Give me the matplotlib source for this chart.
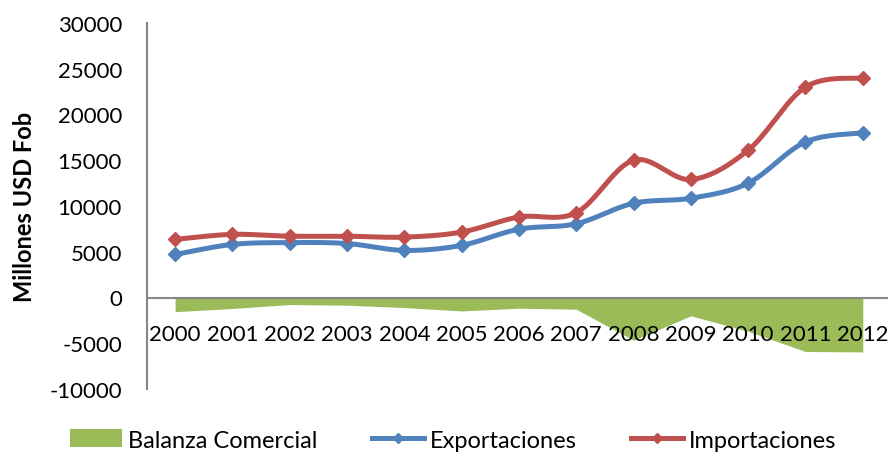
import numpy as np
import matplotlib
matplotlib.use("Agg")
import matplotlib.pyplot as plt
from matplotlib.patches import Patch
from matplotlib.lines import Line2D

plt.rcParams['font.family'] = ['Lato', 'DejaVu Sans']
plt.rcParams['axes.unicode_minus'] = False

years = ['2000', '2001', '2002', '2003', '2004', '2005', '2006',
         '2007', '2008', '2009', '2010', '2011', '2012']
exportaciones = [4700, 5800, 6000, 5900, 5150, 5700, 7470,
                 8060, 10300, 10850, 12500, 17000, 18000]
importaciones = [6350, 6900, 6700, 6700, 6600, 7150, 8800,
                 9270, 15000, 12900, 16100, 23000, 24000]
balanza = [-1550, -1200, -770, -840, -1100, -1470, -1170,
           -1280, -4670, -2000, -3700, -5900, -5950]

GREEN = '#9BBB59'
BLUE = '#4F81BD'
RED = '#C0504D'
GRAY = '#868686'


def smooth(xs, ys, n=30):
    # Catmull-Rom style bezier, similar to Excel's smoothed line
    xs = np.asarray(xs, float)
    ys = np.asarray(ys, float)
    px = np.concatenate([[xs[0]], xs, [xs[-1]]])
    py = np.concatenate([[ys[0]], ys, [ys[-1]]])
    outx, outy = [], []
    t = np.linspace(0, 1, n)
    for i in range(1, len(px) - 2):
        p0 = np.array([px[i], py[i]])
        p3 = np.array([px[i + 1], py[i + 1]])
        c1 = p0 + (np.array([px[i + 1], py[i + 1]]) - np.array([px[i - 1], py[i - 1]])) / 6
        c2 = p3 - (np.array([px[i + 2], py[i + 2]]) - np.array([px[i], py[i]])) / 6
        b = ((1 - t) ** 3)[:, None] * p0 + (3 * (1 - t) ** 2 * t)[:, None] * c1 \
            + (3 * (1 - t) * t ** 2)[:, None] * c2 + (t ** 3)[:, None] * p3
        outx.extend(b[:, 0])
        outy.extend(b[:, 1])
    return np.array(outx), np.array(outy)


fig = plt.figure(figsize=(8.88, 4.56), dpi=100)
ax = fig.add_axes([147 / 888, 66 / 456, 741 / 888, 366 / 456])

x = np.arange(len(years))
ax.fill_between(x, balanza, 0, color=GREEN, linewidth=0, zorder=1)

for vals, col in [(exportaciones, BLUE), (importaciones, RED)]:
    sx, sy = smooth(x, vals)
    ax.plot(sx, sy, color=col, lw=3.6, solid_capstyle='round', zorder=3)
    ax.plot(x, vals, linestyle='none', marker='D', ms=7.5, color=col, zorder=4)

ax.set_xlim(-0.49, 12.44)
ax.set_ylim(-10000, 30000)
ax.set_yticks(range(-10000, 30001, 5000))
ax.set_xticks(x)
ax.set_xticklabels(years)

ax.spines['top'].set_visible(False)
ax.spines['right'].set_visible(False)
ax.spines['bottom'].set_position(('data', 0))
for s in ['left', 'bottom']:
    ax.spines[s].set_color(GRAY)
    ax.spines[s].set_linewidth(1.5)
ax.spines['bottom'].set_zorder(2)
ax.tick_params(axis='both', length=0, labelsize=16, colors='black')
ax.tick_params(axis='x', pad=19)
ax.tick_params(axis='y', pad=18)

ax.set_ylabel('Millones USD Fob', fontsize=17, fontweight='bold')
ax.yaxis.set_label_coords(-0.15, 0.5)

handles = [Patch(facecolor=GREEN, edgecolor='none'),
           Line2D([], [], color=BLUE, lw=3.6, marker='D', ms=5),
           Line2D([], [], color=RED, lw=3.6, marker='D', ms=5)]
fig.legend(handles, ['Balanza Comercial', 'Exportaciones', 'Importaciones'],
           loc='center', bbox_to_anchor=(453 / 888, 15 / 456), ncol=3, frameon=False,
           fontsize=17, handlelength=2.2, handleheight=0.8, handletextpad=0.25,
           columnspacing=2.3)

fig.savefig('out.png', dpi=100)
